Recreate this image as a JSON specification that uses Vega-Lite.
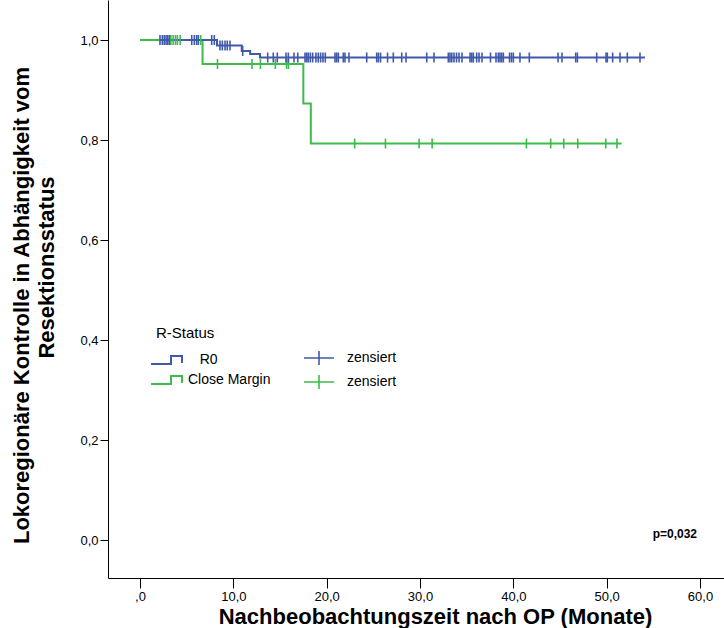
{
  "$schema": "https://vega.github.io/schema/vega-lite/v6.json",
  "width": 616,
  "height": 578,
  "autosize": {"type": "none"},
  "padding": {"left": 108, "top": 0, "right": 0, "bottom": 50},
  "background": "white",
  "config": {
    "view": {"stroke": null},
    "font": "Liberation Sans",
    "axis": {"grid": false, "domainColor": "black", "tickColor": "black", "labelColor": "black", "titleColor": "black", "domainWidth": 1, "tickWidth": 1},
    "legend": {"labelFont": "Liberation Sans", "titleFont": "Liberation Sans", "labelColor": "black", "titleColor": "black"}
  },
  "datasets": {
    "curves": [
      {"group": "R0", "t": 2.1, "s": 1.0},
      {"group": "R0", "t": 8.25, "s": 0.989},
      {"group": "R0", "t": 10.9, "s": 0.978},
      {"group": "R0", "t": 11.8, "s": 0.972},
      {"group": "R0", "t": 12.85, "s": 0.965},
      {"group": "R0", "t": 54.1, "s": 0.965},
      {"group": "Close Margin", "t": 0, "s": 1.0},
      {"group": "Close Margin", "t": 6.7, "s": 0.952},
      {"group": "Close Margin", "t": 17.5, "s": 0.873},
      {"group": "Close Margin", "t": 18.3, "s": 0.793},
      {"group": "Close Margin", "t": 51.6, "s": 0.793}
    ],
    "censored": [
      {"cgroup": "Close Margin zensiert", "t": 3.3, "s": 1.0},
      {"cgroup": "Close Margin zensiert", "t": 3.55, "s": 1.0},
      {"cgroup": "Close Margin zensiert", "t": 3.8, "s": 1.0},
      {"cgroup": "Close Margin zensiert", "t": 4.0, "s": 1.0},
      {"cgroup": "Close Margin zensiert", "t": 4.3, "s": 1.0},
      {"cgroup": "Close Margin zensiert", "t": 6.5, "s": 1.0},
      {"cgroup": "Close Margin zensiert", "t": 8.3, "s": 0.952},
      {"cgroup": "Close Margin zensiert", "t": 12.0, "s": 0.952},
      {"cgroup": "Close Margin zensiert", "t": 12.9, "s": 0.952},
      {"cgroup": "Close Margin zensiert", "t": 14.5, "s": 0.952},
      {"cgroup": "Close Margin zensiert", "t": 15.7, "s": 0.952},
      {"cgroup": "Close Margin zensiert", "t": 15.9, "s": 0.952},
      {"cgroup": "Close Margin zensiert", "t": 23.0, "s": 0.793},
      {"cgroup": "Close Margin zensiert", "t": 26.3, "s": 0.793},
      {"cgroup": "Close Margin zensiert", "t": 29.9, "s": 0.793},
      {"cgroup": "Close Margin zensiert", "t": 31.3, "s": 0.793},
      {"cgroup": "Close Margin zensiert", "t": 41.4, "s": 0.793},
      {"cgroup": "Close Margin zensiert", "t": 44.0, "s": 0.793},
      {"cgroup": "Close Margin zensiert", "t": 45.4, "s": 0.793},
      {"cgroup": "Close Margin zensiert", "t": 46.9, "s": 0.793},
      {"cgroup": "Close Margin zensiert", "t": 49.9, "s": 0.793},
      {"cgroup": "Close Margin zensiert", "t": 51.1, "s": 0.793},
      {"cgroup": "R0 zensiert", "t": 2.14, "s": 1.0},
      {"cgroup": "R0 zensiert", "t": 2.39, "s": 1.0},
      {"cgroup": "R0 zensiert", "t": 2.6, "s": 1.0},
      {"cgroup": "R0 zensiert", "t": 2.79, "s": 1.0},
      {"cgroup": "R0 zensiert", "t": 2.97, "s": 1.0},
      {"cgroup": "R0 zensiert", "t": 3.14, "s": 1.0},
      {"cgroup": "R0 zensiert", "t": 5.54, "s": 1.0},
      {"cgroup": "R0 zensiert", "t": 5.82, "s": 1.0},
      {"cgroup": "R0 zensiert", "t": 6.07, "s": 1.0},
      {"cgroup": "R0 zensiert", "t": 6.25, "s": 1.0},
      {"cgroup": "R0 zensiert", "t": 7.68, "s": 1.0},
      {"cgroup": "R0 zensiert", "t": 7.96, "s": 1.0},
      {"cgroup": "R0 zensiert", "t": 8.57, "s": 0.989},
      {"cgroup": "R0 zensiert", "t": 8.82, "s": 0.989},
      {"cgroup": "R0 zensiert", "t": 9.11, "s": 0.989},
      {"cgroup": "R0 zensiert", "t": 9.35, "s": 0.989},
      {"cgroup": "R0 zensiert", "t": 9.64, "s": 0.989},
      {"cgroup": "R0 zensiert", "t": 11.0, "s": 0.978},
      {"cgroup": "R0 zensiert", "t": 13.68, "s": 0.965},
      {"cgroup": "R0 zensiert", "t": 14.28, "s": 0.965},
      {"cgroup": "R0 zensiert", "t": 14.71, "s": 0.965},
      {"cgroup": "R0 zensiert", "t": 15.64, "s": 0.965},
      {"cgroup": "R0 zensiert", "t": 15.89, "s": 0.965},
      {"cgroup": "R0 zensiert", "t": 16.5, "s": 0.965},
      {"cgroup": "R0 zensiert", "t": 16.9, "s": 0.965},
      {"cgroup": "R0 zensiert", "t": 17.68, "s": 0.965},
      {"cgroup": "R0 zensiert", "t": 17.86, "s": 0.965},
      {"cgroup": "R0 zensiert", "t": 18.03, "s": 0.965},
      {"cgroup": "R0 zensiert", "t": 18.25, "s": 0.965},
      {"cgroup": "R0 zensiert", "t": 18.5, "s": 0.965},
      {"cgroup": "R0 zensiert", "t": 18.85, "s": 0.965},
      {"cgroup": "R0 zensiert", "t": 19.1, "s": 0.965},
      {"cgroup": "R0 zensiert", "t": 19.35, "s": 0.965},
      {"cgroup": "R0 zensiert", "t": 19.6, "s": 0.965},
      {"cgroup": "R0 zensiert", "t": 19.85, "s": 0.965},
      {"cgroup": "R0 zensiert", "t": 20.89, "s": 0.965},
      {"cgroup": "R0 zensiert", "t": 21.07, "s": 0.965},
      {"cgroup": "R0 zensiert", "t": 21.25, "s": 0.965},
      {"cgroup": "R0 zensiert", "t": 21.78, "s": 0.965},
      {"cgroup": "R0 zensiert", "t": 21.96, "s": 0.965},
      {"cgroup": "R0 zensiert", "t": 22.39, "s": 0.965},
      {"cgroup": "R0 zensiert", "t": 24.29, "s": 0.965},
      {"cgroup": "R0 zensiert", "t": 25.36, "s": 0.965},
      {"cgroup": "R0 zensiert", "t": 25.54, "s": 0.965},
      {"cgroup": "R0 zensiert", "t": 25.77, "s": 0.965},
      {"cgroup": "R0 zensiert", "t": 26.52, "s": 0.965},
      {"cgroup": "R0 zensiert", "t": 27.14, "s": 0.965},
      {"cgroup": "R0 zensiert", "t": 28.04, "s": 0.965},
      {"cgroup": "R0 zensiert", "t": 28.5, "s": 0.965},
      {"cgroup": "R0 zensiert", "t": 30.72, "s": 0.965},
      {"cgroup": "R0 zensiert", "t": 31.5, "s": 0.965},
      {"cgroup": "R0 zensiert", "t": 33.03, "s": 0.965},
      {"cgroup": "R0 zensiert", "t": 33.21, "s": 0.965},
      {"cgroup": "R0 zensiert", "t": 33.4, "s": 0.965},
      {"cgroup": "R0 zensiert", "t": 33.64, "s": 0.965},
      {"cgroup": "R0 zensiert", "t": 33.91, "s": 0.965},
      {"cgroup": "R0 zensiert", "t": 34.18, "s": 0.965},
      {"cgroup": "R0 zensiert", "t": 34.5, "s": 0.965},
      {"cgroup": "R0 zensiert", "t": 35.36, "s": 0.965},
      {"cgroup": "R0 zensiert", "t": 35.54, "s": 0.965},
      {"cgroup": "R0 zensiert", "t": 35.71, "s": 0.965},
      {"cgroup": "R0 zensiert", "t": 36.07, "s": 0.965},
      {"cgroup": "R0 zensiert", "t": 36.32, "s": 0.965},
      {"cgroup": "R0 zensiert", "t": 36.64, "s": 0.965},
      {"cgroup": "R0 zensiert", "t": 37.55, "s": 0.965},
      {"cgroup": "R0 zensiert", "t": 38.14, "s": 0.965},
      {"cgroup": "R0 zensiert", "t": 38.39, "s": 0.965},
      {"cgroup": "R0 zensiert", "t": 38.57, "s": 0.965},
      {"cgroup": "R0 zensiert", "t": 38.75, "s": 0.965},
      {"cgroup": "R0 zensiert", "t": 38.93, "s": 0.965},
      {"cgroup": "R0 zensiert", "t": 39.59, "s": 0.965},
      {"cgroup": "R0 zensiert", "t": 39.8, "s": 0.965},
      {"cgroup": "R0 zensiert", "t": 40.0, "s": 0.965},
      {"cgroup": "R0 zensiert", "t": 40.71, "s": 0.965},
      {"cgroup": "R0 zensiert", "t": 41.71, "s": 0.965},
      {"cgroup": "R0 zensiert", "t": 44.79, "s": 0.965},
      {"cgroup": "R0 zensiert", "t": 45.21, "s": 0.965},
      {"cgroup": "R0 zensiert", "t": 46.68, "s": 0.965},
      {"cgroup": "R0 zensiert", "t": 46.86, "s": 0.965},
      {"cgroup": "R0 zensiert", "t": 48.93, "s": 0.965},
      {"cgroup": "R0 zensiert", "t": 49.93, "s": 0.965},
      {"cgroup": "R0 zensiert", "t": 50.07, "s": 0.965},
      {"cgroup": "R0 zensiert", "t": 50.64, "s": 0.965},
      {"cgroup": "R0 zensiert", "t": 51.43, "s": 0.965},
      {"cgroup": "R0 zensiert", "t": 52.21, "s": 0.965},
      {"cgroup": "R0 zensiert", "t": 53.57, "s": 0.965}
    ],
    "note": [
      {"t": 59.68, "s": 0.012, "label": "p=0,032"}
    ]
  },
  "encoding": {
    "x": {
      "field": "t",
      "type": "quantitative",
      "scale": {"domain": [-3.43, 62.57], "nice": false, "zero": false},
      "axis": {
        "values": [0, 10, 20, 30, 40, 50, 60],
        "labelExpr": "datum.value == 0 ? ',0' : replace(format(datum.value, '.1f'), '.', ',')",
        "labelFontSize": 13,
        "labelPadding": 2,
        "tickSize": 10,
        "title": "Nachbeobachtungszeit nach OP (Monate)",
        "titleFontSize": 22,
        "titleFontWeight": "bold",
        "titleX": 327,
        "titleY": 45,
        "titleAlign": "center",
        "titleBaseline": "alphabetic"
      }
    },
    "y": {
      "field": "s",
      "type": "quantitative",
      "scale": {"domain": [-0.076, 1.08], "nice": false, "zero": false},
      "axis": {
        "values": [0, 0.2, 0.4, 0.6, 0.8, 1.0],
        "labelExpr": "replace(format(datum.value, '.1f'), '.', ',')",
        "labelFontSize": 13,
        "labelPadding": 2,
        "tickSize": 8,
        "title": "Lokoregionäre Kontrolle in Abhängigkeit vom",
        "titleFont": "Liberation Sans",
        "titleFontSize": 22,
        "titleFontWeight": "bold",
        "titleAngle": 270,
        "titleX": -96.5,
        "titleY": 305,
        "titleAlign": "center",
        "titleBaseline": "top"
      }
    }
  },
  "layer": [
    {
      "data": {"name": "curves"},
      "encoding": {
        "color": {
          "field": "group",
          "type": "nominal",
          "scale": {"domain": ["R0", "Close Margin"], "range": ["#4059AB", "#3DBB4B"]},
          "legend": {
            "title": "R-Status",
            "orient": "none",
            "legendX": 48,
            "legendY": 326,
            "titleFontSize": 15,
            "titleFontWeight": "normal",
            "titlePadding": 8,
            "labelFontSize": 14,
            "labelOffset": 10,
            "labelExpr": "datum.label == 'R0' ? '\\u200b\\u00a0\\u00a0\\u00a0R0' : datum.label",
            "symbolType": "M-1.6,0.4H0.4V-0.4H1.5V0.3",
            "symbolSize": 400,
            "symbolStrokeWidth": 2,
            "rowPadding": 1
          }
        }
      },
      "layer": [
        {
          "transform": [{"filter": "datum.group == 'Close Margin'"}],
          "mark": {"type": "line", "interpolate": "step-after", "strokeWidth": 2}
        },
        {
          "transform": [{"filter": "datum.group == 'R0'"}],
          "mark": {"type": "line", "interpolate": "step-after", "strokeWidth": 2}
        }
      ]
    },
    {
      "data": {"name": "censored"},
      "mark": {"type": "point", "shape": "M0,-1V1", "filled": false, "size": 100, "strokeWidth": 1.6, "opacity": 1},
      "encoding": {
        "y": {
          "field": "s",
          "type": "quantitative",
          "scale": {"domain": [-0.076, 1.08], "nice": false, "zero": false},
          "axis": {
            "orient": "left",
            "domain": false,
            "ticks": false,
            "labels": false,
            "grid": false,
            "title": "Resektionsstatus",
            "titleFont": "Liberation Sans",
            "titleFontSize": 22,
            "titleFontWeight": "bold",
            "titleAngle": 270,
            "titleX": -71.5,
            "titleY": 267,
            "titleAlign": "center",
            "titleBaseline": "top"
          }
        },
        "color": {
          "field": "cgroup",
          "type": "nominal",
          "scale": {"domain": ["R0 zensiert", "Close Margin zensiert"], "range": ["#4059AB", "#3DBB4B"]},
          "legend": {
            "title": null,
            "orient": "none",
            "legendX": 200,
            "legendY": 347,
            "labelFontSize": 14,
            "labelOffset": 17,
            "labelExpr": "'zensiert'",
            "symbolType": "M-1.5,0H1.5M0,-0.7V0.7",
            "symbolSize": 400,
            "symbolStrokeWidth": 1.6,
            "rowPadding": 2
          }
        }
      }
    },
    {
      "data": {"name": "note"},
      "mark": {"type": "text", "align": "right", "baseline": "middle", "fontSize": 12, "fontWeight": "bold", "color": "black"},
      "encoding": {
        "y": {"field": "s", "type": "quantitative", "axis": null},
        "text": {"field": "label"}
      }
    }
  ],
  "resolve": {"scale": {"color": "independent"}, "axis": {"y": "independent"}}
}
